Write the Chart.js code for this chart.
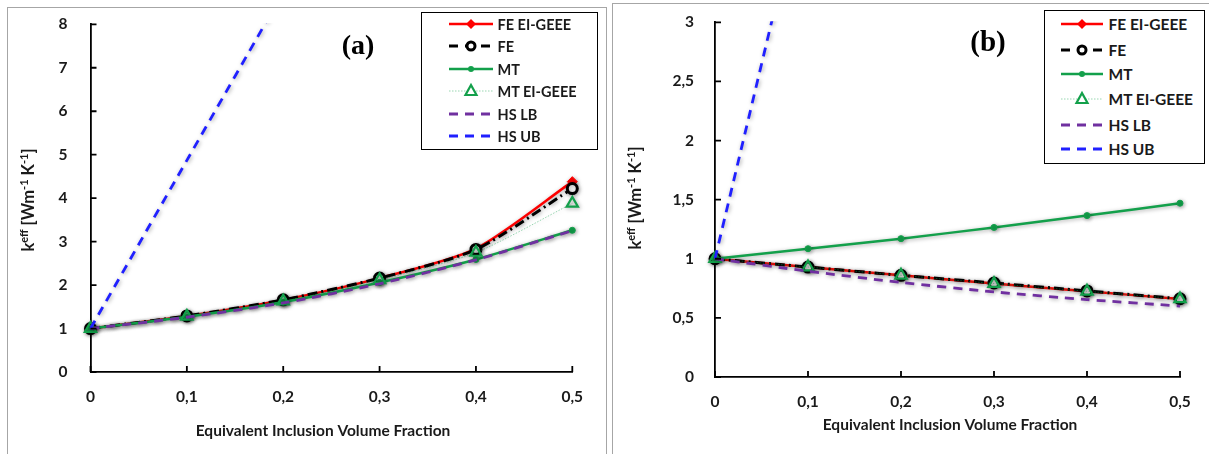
<!DOCTYPE html>
<html><head><meta charset="utf-8">
<script src="https://cdn.jsdelivr.net/npm/chart.js@4.4.1/dist/chart.umd.min.js"></script>
<style>
html,body{margin:0;padding:0;background:#fff;width:1209px;height:454px;overflow:hidden;font-family:Lato,sans-serif;}
.panel{position:absolute;border:1.5px solid #a6a6a6;box-sizing:border-box;}
#pa{left:7px;top:7px;width:600px;height:480px;}
#pb{left:612px;top:3px;width:620px;height:480px;}
canvas{position:absolute;top:0;}
.tag{position:absolute;font-family:"Liberation Serif",serif;font-weight:bold;transform:translate(-50%,-50%);color:#000;white-space:nowrap;}
.legend{position:absolute;border:1.5px solid #000;box-sizing:border-box;background:#fff;}
.lt{position:absolute;font-weight:bold;color:#1a1a1a;transform:translateY(-50%);white-space:nowrap;}
.ls{position:absolute;}
</style></head>
<body>
<div class="panel" id="pa"></div>
<div class="panel" id="pb"></div>
<canvas id="ca" width="606" height="454" style="left:0px;width:606px;height:454px"></canvas>
<canvas id="cb" width="603" height="454" style="left:606px;width:603px;height:454px"></canvas>
<div class="tag" style="left:358px;top:45px;font-size:28px">(a)</div>
<div class="tag" style="left:988px;top:41px;font-size:29px">(b)</div>
<div class="legend" id="la" style="left:421px;top:12px;width:177px;height:138px"></div>
<div class="legend" id="lb" style="left:1044px;top:10px;width:161px;height:154px"></div>
<script>
// ---------------- data ----------------
const xValues = [0, 0.1, 0.2, 0.3, 0.4, 0.5];
const seriesNames = ['FE EI-GEEE', 'FE', 'MT', 'MT EI-GEEE', 'HS LB', 'HS UB'];

// panel (a)
const aFeEi  = [1, 1.29, 1.66, 2.16, 2.84, 4.38];
const aFe    = [1, 1.29, 1.66, 2.16, 2.82, 4.22];
const aMt    = [1, 1.27, 1.61, 2.06, 2.59, 3.26];
const aMtEi  = [1, 1.28, 1.63, 2.12, 2.75, 3.88];
const aHsLb  = [1, 1.26, 1.59, 2.03, 2.58, 3.25];
const aHsUb  = [1, 4.87, 8.74];
const aYTicks = [0, 1, 2, 3, 4, 5, 6, 7, 8];

// panel (b)
const bFeEi  = [1, 0.93, 0.86, 0.79, 0.725, 0.66];
const bFe    = [1, 0.93, 0.86, 0.795, 0.728, 0.662];
const bMt    = [1, 1.085, 1.17, 1.265, 1.365, 1.47];
const bMtEi  = [1, 0.93, 0.86, 0.79, 0.725, 0.66];
const bHsLb  = [1, 0.895, 0.80, 0.72, 0.655, 0.60];
const bHsUb  = [1, 4.29];
const bYTicks = [0, 0.5, 1, 1.5, 2, 2.5, 3];

const xTicks = [0, 0.1, 0.2, 0.3, 0.4, 0.5];
const xTitle = 'Equivalent Inclusion Volume Fraction';
const yTitleParts = [['k',0],['eff',1],[' [Wm',0],['-1',1],[' K',0],['-1',1],[']',0]];

// ---------------- styles ----------------
const GREEN = '#13a04b';
const styles = [
  {borderColor:'#ff0000', borderWidth:2.5, pointStyle:'rectRot', pointRadius:5, pointBackgroundColor:'#ff0000', pointBorderColor:'#ff0000', pointBorderWidth:1, order:6},
  {borderColor:'#000000', borderWidth:3, borderDash:[10,4,2,4], pointStyle:'circle', pointRadius:5, pointBorderWidth:3, pointBorderColor:'#000', pointBackgroundColor:'#fff', order:5},
  {borderColor:GREEN, borderWidth:2.5, pointStyle:'circle', pointRadius:3, pointBackgroundColor:GREEN, pointBorderColor:GREEN, pointBorderWidth:1, order:4},
  {borderColor:'rgba(19,160,75,0.55)', borderWidth:0.8, borderDash:[1.5,1.5], pointStyle:'triangle', pointRadius:6.5, pointBorderWidth:2.2, pointBorderColor:GREEN, pointBackgroundColor:'rgba(255,255,255,0)', order:3},
  {borderColor:'#7030a0', borderWidth:2.8, borderDash:[9,7], pointRadius:0, order:2},
  {borderColor:'#2020ff', borderWidth:2.8, borderDash:[9,7], pointRadius:0, order:1}
];

function fmt(v){ return String(Number(v.toFixed(2))).replace('.', ','); }

function makeSets(arrs){
  return arrs.map((arr, i) => Object.assign({
    label: seriesNames[i],
    data: arr.map((y, j) => ({x: xValues[j], y: y})),
    tension: 0.25,
    clip: i === 5 ? 1 : false,
    pointHoverRadius: 0
  }, styles[i]));
}

const innerTicks = {
  id: 'innerTicks',
  afterDatasetsDraw(chart){
    const {ctx, chartArea: ca, scales: {x, y}} = chart;
    ctx.save();
    ctx.strokeStyle = '#000'; ctx.lineWidth = 1.8;
    ctx.beginPath();
    x.ticks.forEach(t => { const p = x.getPixelForValue(t.value); ctx.moveTo(p, ca.bottom); ctx.lineTo(p, ca.bottom - 6); });
    y.ticks.forEach(t => { const p = y.getPixelForValue(t.value); ctx.moveTo(ca.left, p); ctx.lineTo(ca.left + 6, p); });
    ctx.stroke();
    ctx.restore();
  }
};

const shadow = {
  id: 'shadow',
  beforeDatasetDraw(chart){ const c = chart.ctx; c.save(); c.shadowColor = 'rgba(0,0,0,0.35)'; c.shadowBlur = 4; c.shadowOffsetX = 1; c.shadowOffsetY = 1; },
  afterDatasetDraw(chart){ chart.ctx.restore(); }
};

function titles(geo){
  return {
    id: 'titles',
    afterDraw(chart){
      const ctx = chart.ctx;
      ctx.save();
      ctx.fillStyle = '#1a1a1a';
      ctx.textBaseline = 'middle'; ctx.textAlign = 'center';
      ctx.font = 'bold 15.5px Lato';
      ctx.fillText(xTitle, geo.xtx, geo.xty);
      // y title with superscripts
      const big = 'bold 16.5px Lato', small = 'bold 11px Lato';
      let w = 0;
      yTitleParts.forEach(([t, s]) => { ctx.font = s ? small : big; w += ctx.measureText(t).width; });
      ctx.translate(geo.ytx, geo.yty);
      ctx.rotate(-Math.PI / 2);
      ctx.textAlign = 'left'; ctx.textBaseline = 'alphabetic';
      let cx = -w / 2;
      yTitleParts.forEach(([t, s]) => {
        ctx.font = s ? small : big;
        ctx.fillText(t, cx, s ? 0 : 5.5);
        cx += ctx.measureText(t).width;
      });
      ctx.restore();
    }
  };
}

function makeChart(id, sets, yTicks, yMax, geo){
  const tickFont = {family: 'Lato', size: 15.5, weight: 'bold'};
  return new Chart(document.getElementById(id), {
    type: 'line',
    data: { datasets: makeSets(sets) },
    options: {
      responsive: false, animation: false, devicePixelRatio: 1,
      layout: { padding: geo.pad },
      plugins: { legend: {display: false}, tooltip: {enabled: false} },
      scales: {
        x: {
          type: 'linear', min: 0, max: 0.5,
          afterBuildTicks: s => { s.ticks = xTicks.map(v => ({value: v})); },
          afterFit: s => { s.height = geo.xh; },
          grid: {display: false},
          border: {display: true, color: '#000', width: 1.8},
          ticks: { callback: v => fmt(v), color: '#1a1a1a', font: tickFont, padding: geo.xpad, maxRotation: 0, autoSkip: false }
        },
        y: {
          type: 'linear', min: 0, max: yMax,
          afterBuildTicks: s => { s.ticks = yTicks.map(v => ({value: v})); },
          afterFit: s => { s.width = geo.yw; },
          grid: {display: false},
          border: {display: true, color: '#000', width: 1.8},
          ticks: { callback: v => fmt(v), color: '#1a1a1a', font: tickFont, padding: geo.ypad }
        }
      }
    },
    plugins: [shadow, innerTicks, titles(geo)]
  });
}

makeChart('ca', [aFeEi, aFe, aMt, aMtEi, aHsLb, aHsUb], aYTicks, 8, {
  pad: {left: 0, top: 20.7, right: 33.7, bottom: 42}, xh: 40, yw: 90.5, xpad: 8, ypad: 15,
  xtx: 323, xty: 431, ytx: 28, yty: 200
});
makeChart('cb', [bFeEi, bFe, bMt, bMtEi, bHsLb, bHsUb], bYTicks, 3, {
  pad: {left: 0, top: 16, right: 29, bottom: 37}, xh: 40, yw: 109, xpad: 8, ypad: 13,
  xtx: 344, xty: 425, ytx: 29, yty: 198
});

// ---------------- legends (HTML) ----------------
function sampleSVG(i, w){
  const st = styles[i];
  const h = 20, m = h / 2;
  let dash = st.borderDash ? `stroke-dasharray="${st.borderDash.join(' ')}"` : '';
  let line = `<line x1="0" y1="${m}" x2="${w}" y2="${m}" stroke="${st.borderColor}" stroke-width="${st.borderWidth}" ${dash}/>`;
  if (i === 1) line = `<line x1="0" y1="${m}" x2="${w}" y2="${m}" stroke="#000" stroke-width="3" stroke-dasharray="9 7 9 7"/>`;
  let mk = '';
  const c = w / 2;
  if (i === 0) mk = `<polygon points="${c},${m-5} ${c+5},${m} ${c},${m+5} ${c-5},${m}" fill="#ff0000"/>`;
  if (i === 1) mk = `<circle cx="${c}" cy="${m}" r="4" fill="#fff" stroke="#000" stroke-width="3"/>`;
  if (i === 2) mk = `<circle cx="${c}" cy="${m}" r="3" fill="${GREEN}"/>`;
  if (i === 3) mk = `<polygon points="${c},${m-6} ${c+5.5},${m+4} ${c-5.5},${m+4}" fill="#fff" stroke="${GREEN}" stroke-width="2.2"/>`;
  return `<svg width="${w}" height="${h}" viewBox="0 0 ${w} ${h}">${line}${mk}</svg>`;
}
function buildLegend(id, box, rows, sx, sw, tx, fs){
  const el = document.getElementById(id);
  rows.forEach((ry, i) => {
    const s = document.createElement('div');
    s.className = 'ls';
    s.style.left = (sx - box.x) + 'px'; s.style.top = (ry - box.y - 10) + 'px';
    s.innerHTML = sampleSVG(i, sw);
    el.appendChild(s);
    const t = document.createElement('div');
    t.className = 'lt';
    t.style.left = (tx - box.x) + 'px'; t.style.top = (ry - box.y) + 'px'; t.style.fontSize = fs + 'px';
    t.textContent = seriesNames[i];
    el.appendChild(t);
  });
}
buildLegend('la', {x: 422.5, y: 13.5}, [24, 46.7, 69.3, 91.7, 114.3, 136.7], 449, 44, 498, 14.5);
buildLegend('lb', {x: 1045.5, y: 11.5}, [24, 50, 74, 99, 125, 149], 1061, 42, 1109, 15.5);
</script>
</body></html>
